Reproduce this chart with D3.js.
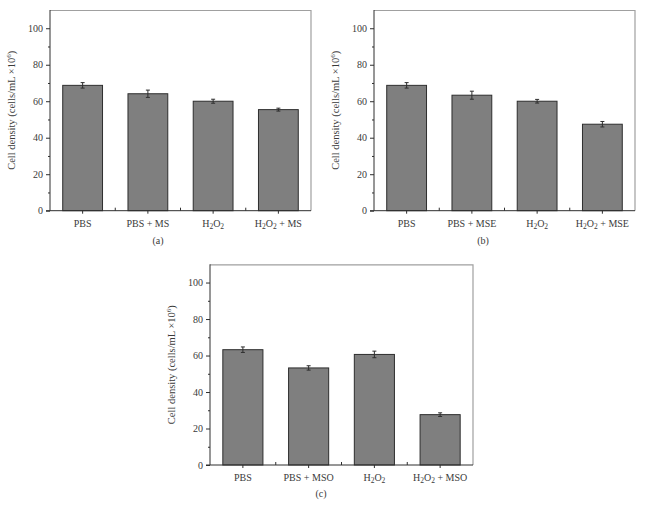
<!DOCTYPE html>
<html>
<head>
<meta charset="utf-8">
<script src="https://cdn.jsdelivr.net/npm/d3@7"></script>
<style>
  body { margin: 0; background: #fff; }
  text { font-family: "Liberation Serif", "Times New Roman", serif; fill: #3a3a3a; }
</style>
</head>
<body>
<div id="chart"></div>
<script>
// Data
var categoriesA = ["PBS", "PBS + MS", "H2O2", "H2O2 + MS"];
var categoriesB = ["PBS", "PBS + MSE", "H2O2", "H2O2 + MSE"];
var categoriesC = ["PBS", "PBS + MSO", "H2O2", "H2O2 + MSO"];

var valuesA = [68.7, 64.1, 60.0, 55.4];
var errorsA = [1.5, 2.0, 1.1, 0.8];
var valuesB = [68.7, 63.3, 60.0, 47.4];
var errorsB = [1.5, 2.2, 1.0, 1.5];
var valuesC = [63.2, 53.2, 60.6, 27.6];
var errorsC = [1.5, 1.2, 1.8, 1.0];

var yTicks = [0, 20, 40, 60, 80, 100];
var yMinorTicks = [10, 30, 50, 70, 90];
var captions = ["(a)", "(b)", "(c)"];

var svg = d3.select("#chart")
  .append("svg")
  .attr("width", 651)
  .attr("height", 510);

// panel boxes: left, top, width, height
var panels = [
  {cats: categoriesA, vals: valuesA, errs: errorsA, cap: captions[0], left: 50, top: 10, w: 261, h: 200.7, capX: 158, capY: 244},
  {cats: categoriesB, vals: valuesB, errs: errorsB, cap: captions[1], left: 374, top: 10, w: 261, h: 200.7, capX: 483, capY: 244},
  {cats: categoriesC, vals: valuesC, errs: errorsC, cap: captions[2], left: 210, top: 264.3, w: 263, h: 200.7, capX: 321, capY: 497}
];

// write a label with subscript 2 in H2O2
function writeLabel(sel, label) {
  var parts = label.split(/(2)/).filter(s => s.length > 0);
  var shift = 0;
  parts.forEach(function(p) {
    if (p === "2") {
      sel.append("tspan").attr("font-size", "7.5px").attr("dy", 2 - shift).text("2");
      shift = 2;
    } else {
      sel.append("tspan").attr("dy", -shift).text(p);
      shift = 0;
    }
  });
}

panels.forEach(function(p) {
  var g = svg.append("g")
    .attr("transform", `translate(${p.left}, ${p.top})`);

  var x = d3.scaleBand()
    .domain(p.cats)
    .range([0, p.w])
    .paddingInner(0.39)
    .paddingOuter(0.195);

  var y = d3.scaleLinear()
    .domain([0, 110])
    .range([p.h, 0]);

  // frame top/right
  g.append("path")
    .attr("d", `M0,0.5H${p.w}V${p.h}`)
    .attr("fill", "none")
    .attr("stroke", "#a0a0a0")
    .attr("stroke-width", 1.2);

  // bars
  g.selectAll(".bar")
    .data(p.vals)
    .enter()
    .append("rect")
    .attr("x", (d, i) => x(p.cats[i]))
    .attr("y", d => y(d))
    .attr("width", x.bandwidth())
    .attr("height", d => y(0) - y(d))
    .attr("fill", "#7f7f7f")
    .attr("stroke", "#2e2e2e")
    .attr("stroke-width", 1);

  // error bars
  var eg = g.append("g").attr("stroke", "#2e2e2e").attr("stroke-width", 1);
  p.vals.forEach(function(v, i) {
    var cx = x(p.cats[i]) + x.bandwidth() / 2;
    var e = p.errs[i];
    eg.append("line").attr("x1", cx).attr("x2", cx).attr("y1", y(v - e)).attr("y2", y(v + e));
    eg.append("line").attr("x1", cx - 2).attr("x2", cx + 2).attr("y1", y(v - e)).attr("y2", y(v - e));
    eg.append("line").attr("x1", cx - 2).attr("x2", cx + 2).attr("y1", y(v + e)).attr("y2", y(v + e));
  });

  // y axis
  var leftAxis = d3.axisLeft(y).tickValues(yTicks).tickSize(4).tickPadding(3);
  var ya = g.append("g").call(leftAxis);
  ya.select(".domain").attr("stroke", "#2e2e2e").attr("d", `M0,0V${p.h}`);
  ya.selectAll(".tick line").attr("stroke", "#2e2e2e");
  ya.selectAll("text").attr("font-size", "10px").attr("font-family", "Liberation Serif").attr("fill", "#3a3a3a");

  var minorAxis = d3.axisLeft(y).tickValues(yMinorTicks).tickSize(2).tickFormat("");
  var ym = g.append("g").call(minorAxis);
  ym.select(".domain").remove();
  ym.selectAll(".tick line").attr("stroke", "#2e2e2e");

  // x axis
  var bottomAxis = d3.axisBottom(x).tickSize(3).tickFormat("");
  var xa = g.append("g").attr("transform", `translate(0, ${p.h})`).call(bottomAxis);
  xa.select(".domain").attr("stroke", "#2e2e2e").attr("d", `M-4,0H${p.w}`);
  xa.selectAll(".tick line").attr("stroke", "#2e2e2e");

  // minor x ticks between bars
  for (var i = 0; i < p.cats.length - 1; i++) {
    var bx = (x(p.cats[i]) + x(p.cats[i + 1]) + x.bandwidth()) / 2;
    g.append("line")
      .attr("x1", bx).attr("x2", bx)
      .attr("y1", p.h).attr("y2", p.h - 3)
      .attr("stroke", "#2e2e2e");
  }

  // x labels
  p.cats.forEach(function(c) {
    var t = g.append("text")
      .attr("x", x(c) + x.bandwidth() / 2)
      .attr("y", p.h + 16)
      .attr("text-anchor", "middle")
      .attr("font-size", "10px");
    writeLabel(t, c);
  });

  // y label
  var yl = g.append("text")
    .attr("transform", `translate(${-35}, ${p.h / 2}) rotate(-90)`)
    .attr("text-anchor", "middle")
    .attr("font-size", "10.5px");
  yl.append("tspan").text("Cell density (cells/mL \u00d710");
  yl.append("tspan").attr("font-size", "7px").attr("dy", "-4").text("6");
  yl.append("tspan").attr("dy", "4").text(")");

  // caption
  svg.append("text")
    .attr("x", p.capX)
    .attr("y", p.capY)
    .attr("text-anchor", "middle")
    .attr("font-size", "10px")
    .text(p.cap);
});
</script>
</body>
</html>
